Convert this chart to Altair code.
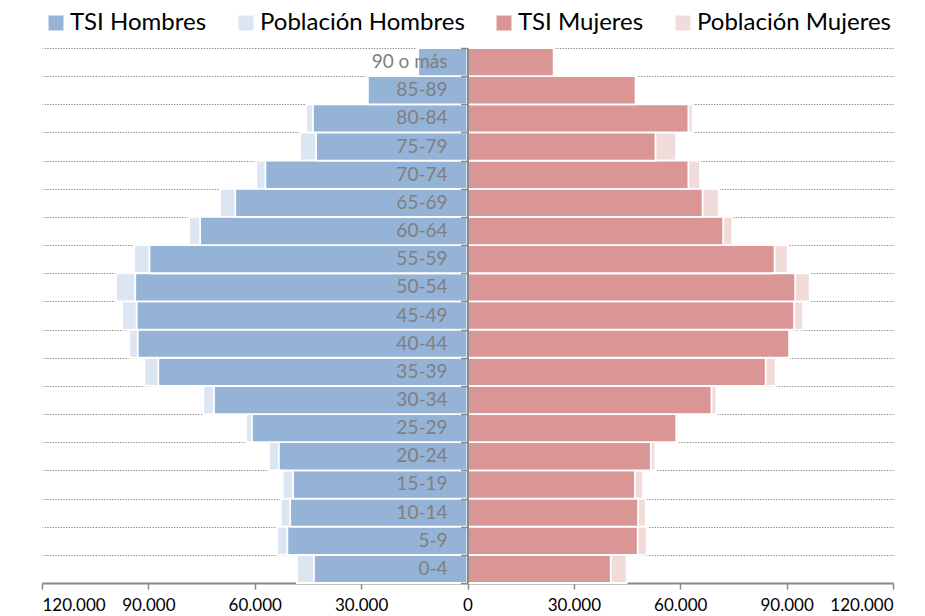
import altair as alt
import pandas as pd

ages = ["0-4", "5-9", "10-14", "15-19", "20-24", "25-29", "30-34", "35-39", "40-44",
        "45-49", "50-54", "55-59", "60-64", "65-69", "70-74", "75-79", "80-84", "85-89", "90 o más"]
tsi_hombres = [43300, 50800, 50000, 49200, 53200, 60800, 71500, 87200, 93000, 93300,
               93700, 89700, 75400, 65500, 57000, 42700, 43600, 28100, 13900]
pob_hombres = [48100, 53700, 52700, 52100, 56000, 62400, 74500, 91100, 95400, 97400,
               99100, 94000, 78500, 69800, 59600, 47200, 45500, 28300, 14100]
tsi_mujeres = [40400, 48000, 48100, 47200, 51700, 58900, 68800, 84100, 90700, 92100,
               92400, 86600, 72100, 66300, 62300, 53000, 62300, 47400, 24300]
pob_mujeres = [44900, 50600, 50300, 49500, 53000, 59400, 70200, 86900, 90800, 94600,
               96500, 90300, 74700, 70900, 65600, 58900, 63500, 47600, 24500]

series = ["TSI Hombres", "Población Hombres", "TSI Mujeres", "Población Mujeres"]
colors = ["#95B3D7", "#DCE6F2", "#D99694", "#F2DCDB"]

rows = []
for i, a in enumerate(ages):
    rows.append({"edad": a, "serie": "Población Hombres", "valor": -pob_hombres[i], "capa": "pob"})
    rows.append({"edad": a, "serie": "Población Mujeres", "valor": pob_mujeres[i], "capa": "pob"})
    rows.append({"edad": a, "serie": "TSI Hombres", "valor": -tsi_hombres[i], "capa": "tsi"})
    rows.append({"edad": a, "serie": "TSI Mujeres", "valor": tsi_mujeres[i], "capa": "tsi"})
df = pd.DataFrame(rows)
labels_df = pd.DataFrame({"edad": ages, "cero": [0] * len(ages)})

W, H = 851, 535
order = list(reversed(ages))

x_axis = alt.Axis(values=[-120000, -90000, -60000, -30000, 0, 30000, 60000, 90000, 120000],
                  labelExpr="datum.value == 0 ? '0' : format(abs(datum.value)/1000, 'd') + '.000'",
                  grid=False, domainColor="#898989", domainWidth=2, tickColor="#898989",
                  tickWidth=1.5, tickSize=6, labelFont="Lato", labelFontSize=17,
                  labelColor="#000000", labelPadding=8, title=None)
x_enc = alt.X("valor:Q", scale=alt.Scale(domain=[-120000, 120000], nice=False), axis=x_axis)

color_enc = alt.Color("serie:N", scale=alt.Scale(domain=series, range=colors),
                      legend=alt.Legend(orient="none", legendX=2, legendY=-37, direction="horizontal",
                                        title=None, symbolType="square", symbolSize=225,
                                        symbolStrokeWidth=0, labelFont="Lato", labelFontSize=24,
                                        labelColor="#000000", labelOffset=2, columnPadding=27,
                                        labelLimit=300, padding=0))

y_scale = alt.Scale(domain=order, paddingInner=0, paddingOuter=0)

pob = alt.Chart(df[df.capa == "pob"]).mark_bar(stroke="white", strokeWidth=1.8).encode(
    x=x_enc,
    y=alt.Y("edad:N", scale=y_scale, sort=order,
            axis=alt.Axis(orient="right", grid=True, tickBand="extent", labels=False, ticks=False,
                          domain=False, title=None, gridColor="#8a8a8a", gridDash=[1.3, 1.4],
                          gridWidth=1.2)),
    color=color_enc,
)

tsi = alt.Chart(df[df.capa == "tsi"]).mark_bar(stroke="white", strokeWidth=1.8).encode(
    x=x_enc,
    y=alt.Y("edad:N", scale=y_scale, sort=order,
            axis=alt.Axis(orient="left", offset=-W / 2, grid=False, tickBand="extent", labels=False,
                          ticks=True, tickSize=7, tickColor="#898989", tickWidth=1.5,
                          domain=True, domainColor="#898989", domainWidth=2, zindex=1, title=None)),
    color=color_enc,
)

txt = alt.Chart(labels_df).mark_text(align="right", baseline="middle", dx=-20, font="Lato",
                                     fontSize=19, color="#7F7F7F").encode(
    x=alt.X("cero:Q", scale=alt.Scale(domain=[-120000, 120000], nice=False), axis=x_axis),
    y=alt.Y("edad:N", scale=y_scale, sort=order, axis=None),
    text="edad:N",
)

chart = alt.layer(pob, tsi, txt).resolve_axis(y="independent").properties(
    width=W, height=H,
    autosize=alt.AutoSizeParams(type="none"),
    padding={"left": 34, "top": 40, "right": 24, "bottom": 30},
).configure_view(stroke=None)

chart.save("out.html", embed_options={"renderer": "svg", "actions": False})
